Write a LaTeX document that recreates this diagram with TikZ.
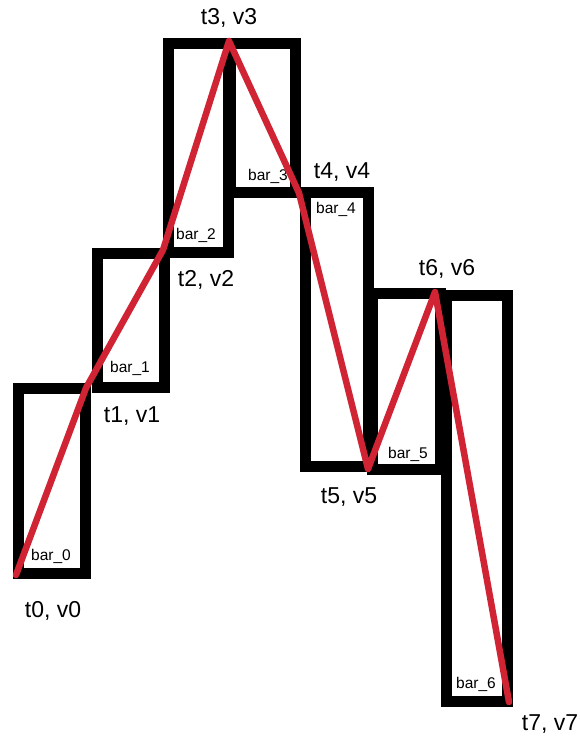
\documentclass[tikz,border=0pt]{standalone}
\usepackage{fontspec}
\setmainfont{Liberation Sans}
\definecolor{redline}{RGB}{208,36,52}
\begin{document}
\begin{tikzpicture}[x=1pt,y=-1pt,
  barbox/.style={draw=black,line width=11pt},
  redpath/.style={draw=redline,line width=6.5pt,line join=round,line cap=round},
  ptlabel/.style={font=\fontsize{23}{23}\selectfont,inner sep=0pt,anchor=base},
  barlabel/.style={font=\fontsize{15.5}{15.5}\selectfont,fill=white,inner sep=1.5pt,anchor=center}]
\useasboundingbox[fill=white] (0,0) rectangle (580,736);
% bars
\draw[barbox] (18.5,388) rectangle (85.5,573);
\draw[barbox] (97,253) rectangle (164.5,387);
\draw[barbox] (168.5,43) rectangle (228.5,252);
\draw[barbox] (230.5,43) rectangle (295,192);
\draw[barbox] (305,192) rectangle (368,466);
\draw[barbox] (372,293) rectangle (440.5,469);
\draw[barbox] (446.5,295) rectangle (507,701);
% bar labels
\node[barlabel] (b0) at (51,556) {bar\_0};
\node[barlabel] (b1) at (130,368) {bar\_1};
\node[barlabel] (b2) at (196,235) {bar\_2};
\node[barlabel] (b3) at (268,176) {bar\_3};
\node[barlabel] (b4) at (336,209) {bar\_4};
\node[barlabel] (b5) at (408,454) {bar\_5};
\node[barlabel] (b6) at (476,684) {bar\_6};
% points
\coordinate (p0) at (16,575);
\coordinate (p1) at (86,388);
\coordinate (p2) at (163,250);
\coordinate (p3) at (229,41);
\coordinate (p4) at (299,193);
\coordinate (p5) at (368,469);
\coordinate (p6) at (435,292);
\coordinate (p7) at (509,702);
\draw[redpath] (p0) -- (p1) -- (p2) -- (p3) -- (p4) -- (p5) -- (p6) -- (p7);
% point labels
\node[ptlabel] (l0) at (53,617) {t0, v0};
\node[ptlabel] (l1) at (132,422) {t1, v1};
\node[ptlabel] (l2) at (206,286) {t2, v2};
\node[ptlabel] (l3) at (229,24) {t3, v3};
\node[ptlabel] (l4) at (342,178) {t4, v4};
\node[ptlabel] (l5) at (349,503) {t5, v5};
\node[ptlabel] (l6) at (447,275) {t6, v6};
\node[ptlabel] (l7) at (550,730) {t7, v7};
\end{tikzpicture}
\end{document}
